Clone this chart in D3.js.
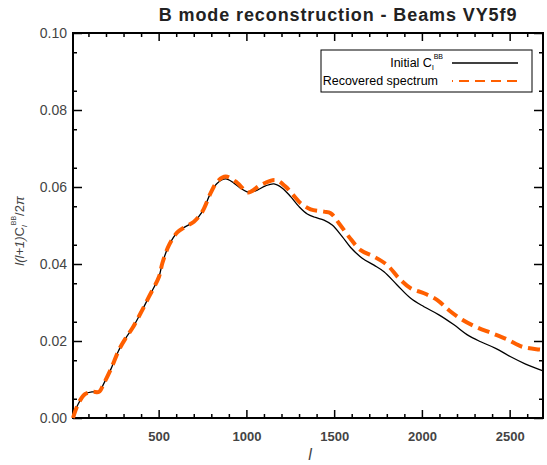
<!DOCTYPE html>
<html>
<head>
<meta charset="utf-8">
<script src="https://cdn.jsdelivr.net/npm/d3@7"></script>
<style>
  body { margin: 0; background: #fff; }
  text { font-family: "Liberation Sans", Arial, sans-serif; }
</style>
</head>
<body>
<div id="chart"></div>
<script>
// multipole values and spectra
var ellInit = [12, 40, 80, 124, 160, 188, 226, 274, 312, 350, 397, 445, 502, 521, 559, 606, 653, 701, 749, 796, 834, 882, 929, 976, 1014, 1062, 1109, 1157, 1205, 1252, 1300, 1347, 1394, 1442, 1489, 1546, 1594, 1660, 1727, 1784, 1860, 1936, 2012, 2097, 2183, 2259, 2335, 2420, 2506, 2591, 2686];
var clInit = [0.0, 0.0035, 0.0062, 0.0068, 0.0068, 0.009, 0.0125, 0.0177, 0.0207, 0.0233, 0.0272, 0.0315, 0.0367, 0.0402, 0.0449, 0.0482, 0.0497, 0.051, 0.0536, 0.0584, 0.061, 0.0621, 0.061, 0.0594, 0.0586, 0.0592, 0.0603, 0.0608, 0.0597, 0.0575, 0.0549, 0.053, 0.0521, 0.0514, 0.0501, 0.0471, 0.0443, 0.0415, 0.0397, 0.038, 0.0345, 0.0311, 0.0289, 0.0268, 0.0242, 0.0216, 0.0198, 0.0181, 0.0159, 0.014, 0.0123];

var ellRec = [12, 40, 80, 124, 160, 188, 226, 274, 312, 350, 397, 445, 502, 521, 559, 606, 653, 701, 749, 796, 834, 882, 948, 1009, 1081, 1166, 1223, 1271, 1309, 1366, 1442, 1480, 1527, 1584, 1651, 1727, 1803, 1869, 1936, 2012, 2088, 2154, 2230, 2316, 2401, 2487, 2572, 2667, 2690];
var clRec = [0.0, 0.0035, 0.0062, 0.0068, 0.0068, 0.009, 0.0125, 0.0177, 0.0207, 0.0233, 0.0272, 0.0315, 0.0367, 0.0402, 0.0449, 0.0482, 0.0497, 0.051, 0.0536, 0.0584, 0.0614, 0.0627, 0.0611, 0.0586, 0.0605, 0.0618, 0.0601, 0.0577, 0.0558, 0.0542, 0.0536, 0.0532, 0.0506, 0.0471, 0.0436, 0.0419, 0.0397, 0.0363, 0.0337, 0.0324, 0.0306, 0.028, 0.0255, 0.0235, 0.022, 0.0204, 0.0185, 0.0178, 0.0177];

var xTicks = [500, 1000, 1500, 2000, 2500];
var yTicks = [0.00, 0.02, 0.04, 0.06, 0.08, 0.10];

var margin = {top: 33, right: 4, bottom: 47, left: 73},
    width = 547 - margin.left - margin.right,
    height = 465 - margin.top - margin.bottom;

var svg = d3.select("#chart")
  .append("svg")
    .attr("width", 547)
    .attr("height", 465)
  .append("g")
    .attr("transform", "translate(" + margin.left + "," + margin.top + ")");

var x = d3.scaleLinear().domain([12, 2690]).range([0, width]);
var y = d3.scaleLinear().domain([0, 0.1]).range([height, 0]);

var minorX = d3.range(100, 2700, 100).filter(function(d) { return d % 500 !== 0; });
var minorY = d3.range(0.005, 0.1, 0.01);

// minor ticks, all four sides
function minor(axisFn, scale, vals, transform) {
  svg.append("g")
    .attr("transform", transform)
    .call(axisFn(scale).tickValues(vals).tickSize(-4).tickFormat(""))
    .call(function(g) { g.select(".domain").remove(); });
}
minor(d3.axisBottom, x, minorX, "translate(0," + height + ")");
minor(d3.axisTop, x, minorX, "translate(0,0)");
minor(d3.axisLeft, y, minorY, "translate(0,0)");
minor(d3.axisRight, y, minorY, "translate(" + width + ",0)");

// major ticks
svg.append("g")
  .attr("transform", "translate(0," + height + ")")
  .call(d3.axisBottom(x).tickValues(xTicks).tickSize(-8).tickPadding(14).tickFormat(d3.format("d")))
  .call(function(g) {
    g.selectAll("text").attr("font-size", 13).attr("font-weight", "bold").attr("fill", "#444");
  });
svg.append("g")
  .call(d3.axisTop(x).tickValues(xTicks).tickSize(-8).tickFormat(""));
svg.append("g")
  .call(d3.axisLeft(y).tickValues(yTicks).tickSize(-9).tickPadding(6).tickFormat(d3.format(".2f")))
  .call(function(g) {
    g.selectAll("text").attr("font-size", 14).attr("fill", "#444");
  });
svg.append("g")
  .attr("transform", "translate(" + width + ",0)")
  .call(d3.axisRight(y).tickValues(yTicks).tickSize(-9).tickFormat(""));

svg.selectAll(".domain").remove();
svg.selectAll(".tick line").attr("stroke", "#000").attr("stroke-width", 1.5);

svg.append("rect")
  .attr("width", width)
  .attr("height", height)
  .attr("fill", "none")
  .attr("stroke", "#000")
  .attr("stroke-width", 2);

var line = d3.line()
  .x(function(d) { return x(d[0]); })
  .y(function(d) { return y(d[1]); })
  .curve(d3.curveCatmullRom);

svg.append("path")
  .datum(d3.zip(ellInit, clInit))
  .attr("fill", "none")
  .attr("stroke", "#000")
  .attr("stroke-width", 1.3)
  .attr("d", line);

svg.append("path")
  .datum(d3.zip(ellRec, clRec))
  .attr("fill", "none")
  .attr("stroke", "#ff5f00")
  .attr("stroke-width", 4)
  .attr("stroke-dasharray", "12,6")
  .attr("d", line);

// legend
var leg = svg.append("g").attr("transform", "translate(" + (321 - margin.left) + "," + (50 - margin.top) + ")");
leg.append("rect")
  .attr("width", 211).attr("height", 42)
  .attr("fill", "#fff").attr("stroke", "#000").attr("stroke-width", 1);

var t1 = leg.append("text").attr("x", 122).attr("y", 17).attr("text-anchor", "end").attr("font-size", 12.5);
t1.append("tspan").text("Initial C");
t1.append("tspan").attr("font-size", 8).attr("dy", 3).text("l");
t1.append("tspan").attr("font-size", 7).attr("dy", -11).text("BB");
leg.append("line")
  .attr("x1", 131).attr("x2", 197).attr("y1", 13).attr("y2", 13)
  .attr("stroke", "#000").attr("stroke-width", 1.5);

leg.append("text").attr("x", 117).attr("y", 35).attr("text-anchor", "end").attr("font-size", 12.5)
  .text("Recovered spectrum");
leg.append("line")
  .attr("x1", 131).attr("x2", 197).attr("y1", 31).attr("y2", 31)
  .attr("stroke", "#ff5f00").attr("stroke-width", 2)
  .attr("stroke-dasharray", "10,6").attr("stroke-dashoffset", 9);

// title and axis titles
svg.append("text")
  .attr("x", 338 - margin.left).attr("y", 21 - margin.top)
  .attr("text-anchor", "middle")
  .attr("font-size", 18).attr("font-weight", "bold").attr("fill", "#222")
  .attr("letter-spacing", 0.9)
  .text("B mode reconstruction - Beams VY5f9");

svg.append("text")
  .attr("x", 310 - margin.left).attr("y", 460 - margin.top)
  .attr("text-anchor", "middle")
  .attr("font-size", 16).attr("font-style", "italic").attr("fill", "#444")
  .text("l");

var yl = svg.append("text")
  .attr("transform", "translate(" + (24 - margin.left) + "," + (231 - margin.top) + ") rotate(-90)")
  .attr("text-anchor", "middle")
  .attr("font-size", 13).attr("fill", "#444");
yl.append("tspan").attr("font-style", "italic").text("l(l+1)");
yl.append("tspan").text("C");
yl.append("tspan").attr("font-size", 8).attr("font-style", "italic").attr("dy", 3).text("l");
yl.append("tspan").attr("font-size", 7).attr("dy", -11).text("BB");
yl.append("tspan").attr("dy", 8).text("/2");
yl.append("tspan").attr("font-style", "italic").text("π");
</script>
</body>
</html>
